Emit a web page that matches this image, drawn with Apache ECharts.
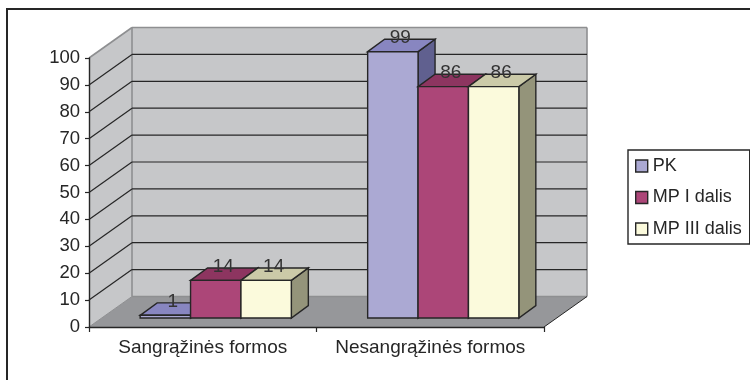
<!DOCTYPE html>
<html>
<head>
<meta charset="utf-8">
<style>html,body{margin:0;padding:0;background:#fff}#chart{width:750px;height:380px}</style>
<script src="https://cdn.jsdelivr.net/npm/echarts@6/dist/echarts.min.js"></script>
</head>
<body>
<div id="chart"></div>
<script>
const categories = ['Sangrąžinės formos', 'Nesangrąžinės formos'];
const seriesNames = ['PK', 'MP I dalis', 'MP III dalis'];
const pk = [1, 99];
const mpI = [14, 86];
const mpIII = [14, 86];
const gridValues = [10, 20, 30, 40, 50, 60, 70, 80, 90];

const INK = '#262626';
const WALL = '#c6c7c9';
const FLOOR = '#96979a';
const EDGE = '#8e8f91';
const FONT = '"Liberation Sans", Arial, sans-serif';

// Oblique projection: the back wall is shifted by WALL_DX/WALL_DY, the bars
// stand part way into the floor and have their own depth.
const WALL_DX = 43, WALL_DY = -30.5;
const BAR_DX = 13, BAR_DY = -9;
const DEPTH_DX = 17, DEPTH_DY = -12.4;
const BAR_RATIO = 0.2215;

const palettes = [
  { front: '#aba9d3', top: '#8886c0', side: '#60608f' },
  { front: '#ac4678', top: '#8d3560', side: '#6f2a4c' },
  { front: '#fbfadc', top: '#cbcaa8', side: '#94947a' }
];

const poly = (points, fill, stroke, lineWidth) => ({
  type: 'polygon',
  shape: { points },
  style: { fill, stroke: stroke || null, lineWidth: lineWidth || 0 }
});
const line = (x1, y1, x2, y2, stroke, lineWidth) => ({
  type: 'line',
  shape: { x1, y1, x2, y2 },
  style: { stroke, lineWidth: lineWidth || 1, fill: null }
});

// Floor and the two walls of the chart box.
function renderWalls(params, api) {
  const c = params.coordSys;
  const x0 = c.x, x1 = c.x + c.width;
  const yBase = api.coord([0, 0])[1], yTop = api.coord([0, 100])[1];
  const bx0 = x0 + WALL_DX, bx1 = x1 + WALL_DX;
  const byBase = yBase + WALL_DY, byTop = yTop + WALL_DY;
  return {
    type: 'group',
    children: [
      poly([[bx0, byTop], [bx1, byTop], [bx1, byBase], [bx0, byBase]], WALL),
      poly([[x0, yTop], [bx0, byTop], [bx0, byBase], [x0, yBase]], WALL),
      poly([[x0, yBase], [x1, yBase], [bx1, byBase], [bx0, byBase]], FLOOR),
      line(bx0, byTop, bx1, byTop, EDGE, 1.6),
      line(bx1, byTop, bx1, byBase, EDGE, 1.6),
      line(bx0, byTop, bx0, byBase, EDGE, 1.6),
      line(bx0, byBase, bx1, byBase, EDGE, 1.6),
      line(x0, yTop, bx0, byTop, EDGE, 1.6),
      line(x0, yBase, bx0, byBase, EDGE, 1),
      line(x1, yBase, bx1, byBase, INK, 1)
    ]
  };
}

// One gridline, running across the side wall and along the back wall.
function renderGridline(params, api) {
  const c = params.coordSys;
  const y = api.coord([0, api.value(1)])[1];
  const x0 = c.x, x1 = c.x + c.width;
  return {
    type: 'group',
    children: [
      line(x0, y, x0 + WALL_DX, y + WALL_DY, INK, 1.2),
      line(x0 + WALL_DX, y + WALL_DY, x1 + WALL_DX, y + WALL_DY, INK, 1.2)
    ]
  };
}

// A bar with front, top and side faces plus its value above the top face.
function barRenderer(seriesIndex) {
  const colors = palettes[seriesIndex];
  return function (params, api) {
    const band = api.size([1, 0])[0];
    const w = band * BAR_RATIO;
    const center = api.coord([api.value(0), 0]);
    const value = api.value(1);
    const xl = center[0] + BAR_DX + (seriesIndex - 1.5) * w;
    const xr = xl + w;
    const yb = center[1] + BAR_DY;
    const yt = api.coord([api.value(0), value])[1] + BAR_DY;
    const stroke = { s: INK, w: 1.4 };
    return {
      type: 'group',
      children: [
        poly([[xr, yt], [xr + DEPTH_DX, yt + DEPTH_DY], [xr + DEPTH_DX, yb + DEPTH_DY], [xr, yb]], colors.side, stroke.s, stroke.w),
        poly([[xl, yt], [xl + DEPTH_DX, yt + DEPTH_DY], [xr + DEPTH_DX, yt + DEPTH_DY], [xr, yt]], colors.top, stroke.s, stroke.w),
        poly([[xl, yt], [xr, yt], [xr, yb], [xl, yb]], colors.front, stroke.s, stroke.w),
        {
          type: 'text',
          style: {
            text: String(value),
            x: (xl + xr) / 2 + DEPTH_DX / 2 - 1,
            y: yt + DEPTH_DY - 1.5,
            fill: '#333',
            font: '19px ' + FONT,
            align: 'center',
            verticalAlign: 'middle'
          }
        }
      ]
    };
  };
}

const toPairs = values => values.map((v, i) => [i, v]);
const barSeries = [pk, mpI, mpIII].map((values, i) => ({
  name: seriesNames[i],
  type: 'custom',
  coordinateSystem: 'cartesian2d',
  renderItem: barRenderer(i),
  encode: { x: 0, y: 1 },
  data: toPairs(values),
  itemStyle: { color: palettes[i].front },
  z: 3 + i,
  silent: true
}));

const chart = echarts.init(document.getElementById('chart'), null, { renderer: 'canvas' });
chart.setOption({
  animation: false,
  backgroundColor: '#fff',
  textStyle: { fontFamily: FONT },
  graphic: [{
    type: 'rect',
    shape: { x: 7, y: 9, width: 780, height: 400 },
    style: { fill: null, stroke: INK, lineWidth: 2 },
    z: 0,
    silent: true
  }],
  grid: { left: 89, top: 58, width: 455, height: 269, containLabel: false },
  xAxis: {
    type: 'category',
    data: categories,
    z: 2,
    axisLine: { show: true, lineStyle: { color: INK, width: 1.4 } },
    axisTick: { show: true, interval: 0, length: 5, lineStyle: { color: INK, width: 1.2 } },
    axisLabel: { color: INK, fontSize: 19, fontFamily: FONT, margin: 11, interval: 0, hideOverlap: false },
    splitLine: { show: false }
  },
  yAxis: {
    type: 'value',
    min: 0,
    max: 100,
    interval: 10,
    z: 2,
    axisLine: { show: true, lineStyle: { color: INK, width: 1.4 } },
    axisTick: { show: true, length: 4, lineStyle: { color: INK, width: 1.2 } },
    axisLabel: { color: INK, fontSize: 18.5, fontFamily: FONT, margin: 9 },
    splitLine: { show: false }
  },
  legend: {
    orient: 'vertical',
    left: 628,
    top: 150,
    padding: [7, 8, 6, 7],
    itemGap: 13.5,
    itemWidth: 12,
    itemHeight: 12,
    backgroundColor: '#fff',
    borderColor: INK,
    borderWidth: 1.4,
    borderRadius: 0,
    selectedMode: false,
    textStyle: { color: INK, fontSize: 18, fontFamily: FONT },
    data: seriesNames.map((name, i) => ({
      name,
      icon: 'rect',
      itemStyle: { color: palettes[i].front, borderColor: INK, borderWidth: 1.4 }
    }))
  },
  series: [
    {
      type: 'custom',
      coordinateSystem: 'cartesian2d',
      renderItem: renderWalls,
      encode: { x: 0, y: 1 },
      data: [[0, 0]],
      z: 1,
      silent: true
    },
    {
      type: 'custom',
      coordinateSystem: 'cartesian2d',
      renderItem: renderGridline,
      encode: { x: 0, y: 1 },
      data: gridValues.map(v => [0, v]),
      z: 1,
      silent: true
    }
  ].concat(barSeries)
});
</script>
</body>
</html>
